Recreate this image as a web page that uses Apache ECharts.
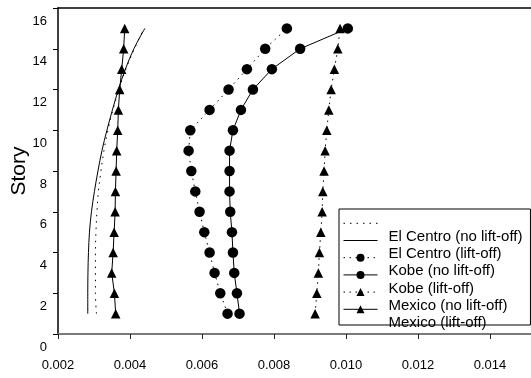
<!DOCTYPE html>
<html>
<head>
<meta charset="utf-8">
<script src="https://cdn.jsdelivr.net/npm/echarts@6/dist/echarts.min.js"></script>
<style>
  html, body { margin: 0; padding: 0; background: #fff; }
  #chart { width: 531px; height: 378px; }
</style>
</head>
<body>
<div id="chart"></div>
<script>
// Story levels (vertical axis)
const stories = [1, 2, 3, 4, 5, 6, 7, 8, 9, 10, 11, 12, 13, 14, 15];

// Inter-story drift per story, one array per record / base condition
const elCentroNoLift = [0.003068, 0.003040, 0.003040, 0.003040, 0.003054, 0.003082, 0.003123, 0.003193,
                        0.003276, 0.003387, 0.003526, 0.003692, 0.003886, 0.004122, 0.004386];
const elCentroLift   = [0.002827, 0.002827, 0.002832, 0.002846, 0.002874, 0.002929, 0.003012, 0.003110,
                        0.003221, 0.003359, 0.003512, 0.003678, 0.003872, 0.004108, 0.004413];
const kobeNoLift     = [0.006710, 0.006508, 0.006350, 0.006211, 0.006064, 0.005933, 0.005814, 0.005703,
                        0.005628, 0.005675, 0.006211, 0.006738, 0.007248, 0.007756, 0.008358];
const kobeLift       = [0.007043, 0.006971, 0.006896, 0.006860, 0.006832, 0.006785, 0.006766, 0.006766,
                        0.006766, 0.006860, 0.007082, 0.007415, 0.007942, 0.008727, 0.010050];
const mexicoNoLift   = [0.009143, 0.009190, 0.009234, 0.009262, 0.009301, 0.009337, 0.009356, 0.009392,
                        0.009420, 0.009467, 0.009523, 0.009587, 0.009678, 0.009773, 0.009836];
const mexicoLift     = [0.003603, 0.003567, 0.003492, 0.003531, 0.003559, 0.003587, 0.003595, 0.003614,
                        0.003631, 0.003659, 0.003678, 0.003714, 0.003770, 0.003825, 0.003853];

// Series names, in legend order
const seriesNames = ['El Centro (no lift-off)', 'El Centro (lift-off)', 'Kobe (no lift-off)',
                     'Kobe (lift-off)', 'Mexico (no lift-off)', 'Mexico (lift-off)'];

// Tick labels
const xTickLabels = ['0.002', '0.004', '0.006', '0.008', '0.010', '0.012', '0.014'];
const yTickLabels = ['0', '2', '4', '6', '8', '10', '12', '14', '16'];
const yAxisTitle = 'Story';

const FONT = '"Liberation Sans", Arial, sans-serif';
const toPoints = xs => xs.map((x, i) => [x, stories[i]]);

const DOT_PLAIN = [1.5, 5];
const DOT_MARK = [1.5, 4.5];

function lineSeries(name, xs, opts) {
  return Object.assign({
    name: name,
    type: 'line',
    data: toPoints(xs),
    symbol: 'none',
    symbolSize: 10,
    lineStyle: { color: '#000', width: 1, type: 'solid' },
    itemStyle: { color: '#000' },
    emphasis: { disabled: true },
    silent: true,
    animation: false
  }, opts);
}

const chart = echarts.init(document.getElementById('chart'), null, { renderer: 'canvas' });

chart.setOption({
  animation: false,
  backgroundColor: '#fff',
  grid: { left: 58, top: 8, right: 0, bottom: 44, containLabel: false, outerBoundsMode: 'none' },
  xAxis: [
    {
      type: 'value',
      min: 0.002,
      max: 0.01514,
      interval: 0.002,
      position: 'bottom',
      axisLine: { show: true, onZero: false, lineStyle: { color: '#7a7a7a', width: 2 } },
      axisTick: { show: true, inside: false, length: 5, lineStyle: { color: '#222', width: 1 } },
      axisLabel: {
        show: true, margin: 25, color: '#000', fontFamily: FONT, fontSize: 13,
        showMinLabel: true,
        showMaxLabel: false,
        formatter: v => {
          const i = Math.round((v - 0.002) / 0.002);
          return Math.abs(v - (0.002 + i * 0.002)) < 1e-9 ? (xTickLabels[i] || '') : '';
        }
      },
      splitLine: { show: false }
    },
    {
      type: 'value',
      min: 0.002,
      max: 0.01514,
      position: 'top',
      axisLine: { show: true, onZero: false, lineStyle: { color: '#000', width: 1.5 } },
      axisTick: { show: false },
      axisLabel: { show: false },
      splitLine: { show: false }
    }
  ],
  yAxis: {
    type: 'value',
    min: 0,
    max: 16,
    interval: 2,
    name: yAxisTitle,
    nameLocation: 'middle',
    nameGap: 28.5,
    nameMoveOverlap: false,
    nameTextStyle: { fontFamily: FONT, fontSize: 21, color: '#000' },
    axisLine: { show: true, onZero: false, lineStyle: { color: '#000', width: 1.5 } },
    axisTick: { show: true, inside: false, length: 5, lineStyle: { color: '#000', width: 1 } },
    axisLabel: {
      margin: 11, color: '#000', fontFamily: FONT, fontSize: 13, lineHeight: 13,
      showMinLabel: true,
      showMaxLabel: true,
      // labels hang just below their ticks
      verticalAlign: 'top',
      padding: [6.5, 0, 0, 0],
      formatter: v => yTickLabels[Math.round(v / 2)]
    },
    splitLine: { show: false }
  },
  legend: {
    orient: 'vertical',
    left: 339,
    top: 209,
    itemWidth: 34,
    itemHeight: 10,
    itemGap: -36.8,
    padding: [-12.7, 8, -11.3, 4],
    borderColor: '#000',
    borderWidth: 1,
    borderRadius: 0,
    selectedMode: false,
    lineStyle: { width: 1 },
    // each label is drawn one row below its key
    formatter: name => '\n' + name,
    textStyle: { fontFamily: FONT, fontSize: 15, lineHeight: 27, color: '#000', padding: [0, 0, 0, 6] },
    data: [
      { name: seriesNames[0], itemStyle: { opacity: 0 } },
      { name: seriesNames[1], itemStyle: { opacity: 0 } },
      { name: seriesNames[2] },
      { name: seriesNames[3] },
      { name: seriesNames[4] },
      { name: seriesNames[5] }
    ]
  },
  series: [
    lineSeries(seriesNames[0], elCentroNoLift, { smooth: 0.35, lineStyle: { color: '#000', width: 1, type: DOT_PLAIN } }),
    lineSeries(seriesNames[1], elCentroLift, { smooth: 0.35 }),
    lineSeries(seriesNames[2], kobeNoLift, { symbol: 'circle', symbolSize: 10.5, lineStyle: { color: '#000', width: 1, type: DOT_MARK } }),
    lineSeries(seriesNames[3], kobeLift, { symbol: 'circle', symbolSize: 10.5 }),
    lineSeries(seriesNames[4], mexicoNoLift, { symbol: 'triangle', symbolSize: 9.5, lineStyle: { color: '#000', width: 1, type: DOT_MARK } }),
    lineSeries(seriesNames[5], mexicoLift, { symbol: 'triangle', symbolSize: 9.5 })
  ]
});
</script>
</body>
</html>
